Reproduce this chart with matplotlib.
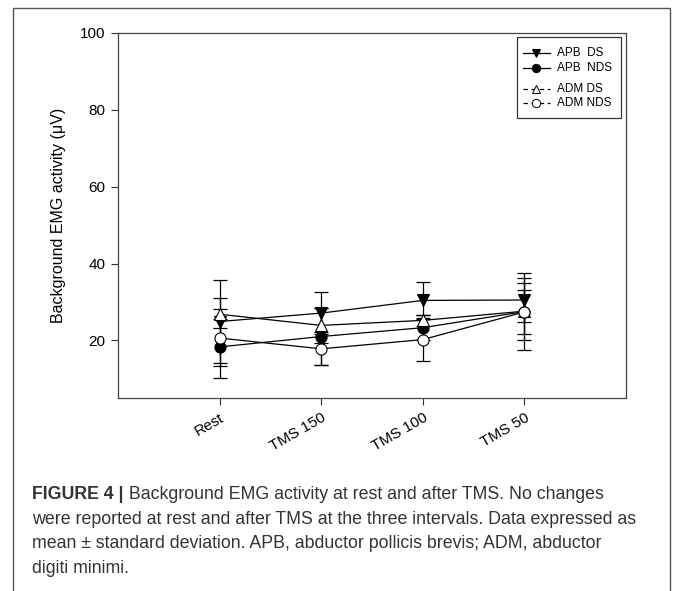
import matplotlib
matplotlib.use("Agg")
import matplotlib.pyplot as plt
from matplotlib.lines import Line2D
from matplotlib.patches import Rectangle

plt.rcParams["font.family"] = ["Liberation Sans", "DejaVu Sans"]

# -----------------------------------------------------------------------
# Data (mean +/- SD)
# -----------------------------------------------------------------------
conditions = ["Rest", "TMS 150", "TMS 100", "TMS 50"]

apb_ds_mean = [24.9, 27.1, 30.4, 30.5]
apb_ds_sd = [10.7, 5.5, 4.8, 5.7]
apb_nds_mean = [18.3, 21.0, 23.3, 27.5]
apb_nds_sd = [5.0, 7.4, 3.2, 7.4]
adm_ds_mean = [26.8, 23.9, 25.2, 27.6]
adm_ds_sd = [1.3, 4.5, 1.5, 10.0]
adm_nds_mean = [20.6, 17.8, 20.2, 27.4]
adm_nds_sd = [10.5, 4.3, 5.5, 5.8]

series = [
    ("APB  DS", apb_ds_mean, apb_ds_sd, "v", "black", "-"),
    ("APB  NDS", apb_nds_mean, apb_nds_sd, "o", "black", "-"),
    ("ADM DS", adm_ds_mean, adm_ds_sd, "^", "white", (0, (3.5, 3))),
    ("ADM NDS", adm_nds_mean, adm_nds_sd, "o", "white", (0, (3.5, 3))),
]

caption_bold = "FIGURE 4 |"
caption_lines = [
    " Background EMG activity at rest and after TMS. No changes",
    "were reported at rest and after TMS at the three intervals. Data expressed as",
    "mean \u00b1 standard deviation. APB, abductor pollicis brevis; ADM, abductor",
    "digiti minimi.",
]

W, H = 673, 591
fig = plt.figure(figsize=(W / 100, H / 100), dpi=100)

# outer frame around the whole figure
fig.patches.append(Rectangle((13 / W, -0.05), (670 - 13) / W, 1 - 8 / H + 0.05,
                             transform=fig.transFigure, fill=False,
                             edgecolor="#555555", linewidth=1.0))

ax = fig.add_axes([118 / W, 1 - 398 / H, (626 - 118) / W, (398 - 33) / H])
x = list(range(1, len(conditions) + 1))

for label, mean, sd, mk, face, ls in series:
    ax.errorbar(x, mean, yerr=sd, fmt="none", ecolor="black", elinewidth=0.9,
                capsize=5, capthick=0.9, zorder=2)
for label, mean, sd, mk, face, ls in series:
    ax.plot(x, mean, color="black", linewidth=0.9, marker=mk, markersize=8,
            markerfacecolor=face, markeredgecolor="black", markeredgewidth=0.8,
            zorder=3)

ax.set_xlim(0, 5)
ax.set_ylim(5, 100)
ax.set_yticks([20, 40, 60, 80, 100])
ax.set_xticks(x)
ax.set_xticklabels(conditions, rotation=30, ha="right", rotation_mode="anchor")
ax.tick_params(labelsize=11, length=5, width=0.8, color="#333333", pad=4)
for sp in ax.spines.values():
    sp.set_linewidth(0.9)
    sp.set_color("#444444")
ax.set_ylabel("Background EMG activity (\u03bcV)", fontsize=11.5, labelpad=10)

# legend drawn by hand (SigmaPlot style, gap between the two muscles)
ax.add_patch(Rectangle((0.785, 0.767), 0.205, 0.222, transform=ax.transAxes,
                       fill=False, edgecolor="#333333", linewidth=0.9))
for (label, mean, sd, mk, face, ls), yy in zip(series, [0.945, 0.904, 0.847, 0.808]):
    ax.add_line(Line2D([0.797, 0.850], [yy, yy], transform=ax.transAxes,
                       color="black", linewidth=0.9, linestyle=ls))
    ax.add_line(Line2D([0.823], [yy], transform=ax.transAxes, marker=mk,
                       markersize=6, markerfacecolor=face,
                       markeredgecolor="black", markeredgewidth=0.7))
    ax.text(0.864, yy, label, transform=ax.transAxes, fontsize=8.5,
            va="center", ha="left")

# caption: bold lead-in, rest of the first line attached to its right edge
cap_kw = dict(fontsize=12.8, color="#333333")
t0 = fig.text(32 / W, 1 - 499 / H, caption_bold, fontweight="bold",
              va="baseline", **cap_kw)
ax.annotate(caption_lines[0], xy=(1, 0), xycoords=t0, va="bottom",
            annotation_clip=False, **cap_kw)
for i, line in enumerate(caption_lines[1:], start=1):
    fig.text(32 / W, 1 - (499 + 24.7 * i) / H, line, va="baseline", **cap_kw)

fig.savefig("out.png", dpi=100)
